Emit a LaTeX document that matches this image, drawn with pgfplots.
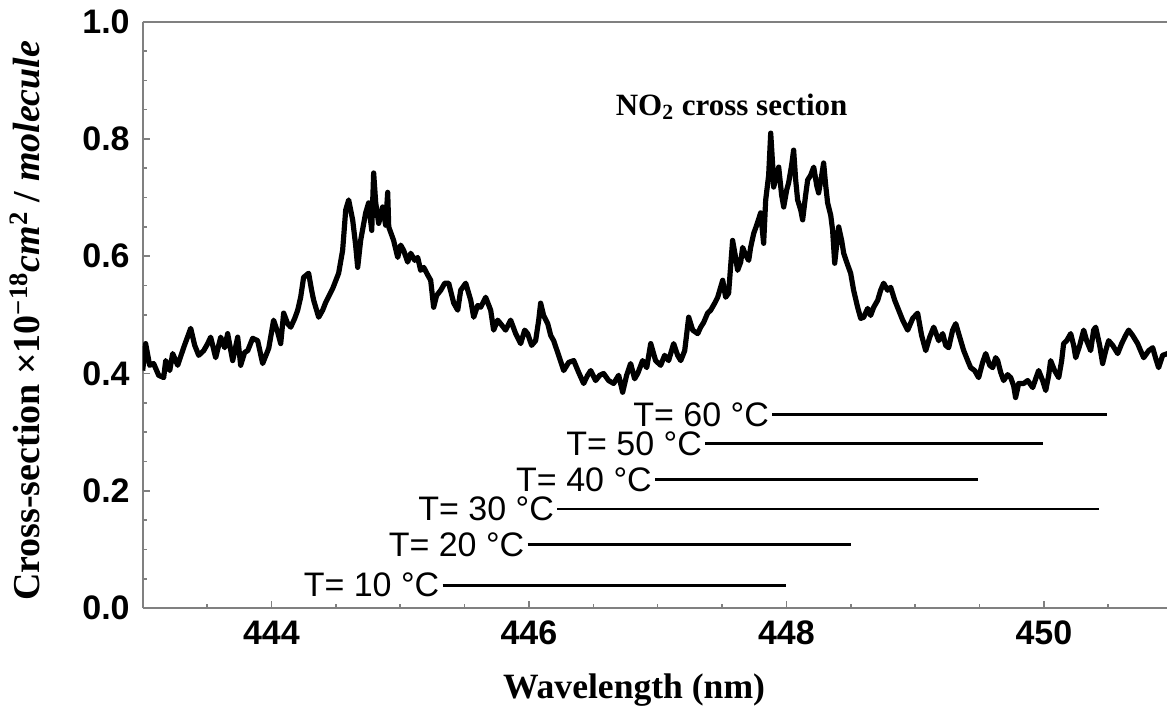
\documentclass[border=0pt]{standalone}
\usepackage{fontspec}
\setmainfont{Liberation Serif}
\newfontfamily\arial{Liberation Sans}
\usepackage{pgfplots}
\pgfplotsset{compat=1.18}

% NO2 absorption cross-section (x: wavelength in nm, y: 1e-18 cm^2/molecule)
\pgfplotstableread{
x y
443.000 0.405
443.023 0.451
443.054 0.414
443.085 0.417
443.124 0.397
443.163 0.393
443.179 0.422
443.210 0.405
443.233 0.434
443.272 0.414
443.318 0.444
443.373 0.477
443.404 0.448
443.435 0.431
443.474 0.439
443.505 0.451
443.528 0.462
443.567 0.427
443.606 0.462
443.637 0.444
443.660 0.468
443.699 0.422
443.738 0.462
443.761 0.414
443.792 0.436
443.816 0.439
443.854 0.460
443.893 0.456
443.932 0.417
443.979 0.443
444.017 0.491
444.049 0.470
444.072 0.451
444.095 0.503
444.126 0.485
444.150 0.479
444.181 0.494
444.204 0.508
444.227 0.530
444.250 0.564
444.289 0.571
444.312 0.542
444.328 0.525
444.367 0.496
444.398 0.508
444.421 0.521
444.476 0.545
444.522 0.571
444.553 0.610
444.577 0.679
444.600 0.696
444.631 0.662
444.654 0.619
444.670 0.581
444.693 0.627
444.732 0.674
444.755 0.691
444.779 0.644
444.794 0.742
444.810 0.691
444.833 0.656
444.864 0.684
444.887 0.653
444.903 0.709
444.911 0.650
444.949 0.627
444.981 0.598
445.004 0.619
445.027 0.610
445.058 0.590
445.082 0.605
445.113 0.593
445.136 0.598
445.159 0.576
445.183 0.581
445.214 0.568
445.237 0.559
445.260 0.513
445.283 0.533
445.315 0.542
445.346 0.554
445.377 0.554
445.416 0.520
445.447 0.508
445.470 0.542
445.509 0.554
445.548 0.525
445.571 0.496
445.602 0.516
445.625 0.513
445.664 0.530
445.703 0.508
445.726 0.474
445.757 0.491
445.780 0.485
445.819 0.474
445.858 0.491
445.897 0.468
445.936 0.451
445.967 0.474
445.990 0.468
446.021 0.448
446.052 0.456
446.076 0.491
446.091 0.520
446.114 0.499
446.146 0.485
446.169 0.465
446.192 0.456
446.231 0.431
446.270 0.405
446.309 0.419
446.348 0.422
446.386 0.402
446.425 0.383
446.456 0.397
446.480 0.405
446.518 0.388
446.550 0.397
446.580 0.400
446.619 0.388
446.658 0.383
446.697 0.397
446.728 0.368
446.759 0.397
446.790 0.417
446.821 0.391
446.845 0.400
446.883 0.422
446.915 0.410
446.946 0.451
446.984 0.422
447.023 0.414
447.054 0.431
447.085 0.422
447.124 0.451
447.155 0.431
447.179 0.422
447.210 0.439
447.241 0.496
447.272 0.474
447.311 0.468
447.334 0.479
447.357 0.487
447.388 0.503
447.412 0.508
447.443 0.520
447.466 0.530
447.489 0.547
447.505 0.559
447.528 0.530
447.551 0.537
447.582 0.627
447.606 0.597
447.621 0.576
447.645 0.590
447.660 0.615
447.683 0.602
447.707 0.593
447.722 0.615
447.746 0.639
447.769 0.653
447.800 0.674
447.823 0.622
447.839 0.696
447.862 0.738
447.878 0.810
447.893 0.756
447.901 0.718
447.924 0.738
447.940 0.752
447.963 0.704
447.979 0.684
448.002 0.713
448.017 0.725
448.041 0.756
448.056 0.781
448.072 0.730
448.087 0.696
448.111 0.679
448.126 0.662
448.149 0.704
448.165 0.730
448.188 0.738
448.212 0.752
448.235 0.721
448.250 0.708
448.274 0.738
448.289 0.759
448.305 0.721
448.320 0.691
448.344 0.670
448.359 0.644
448.375 0.588
448.390 0.619
448.406 0.650
448.429 0.627
448.445 0.605
448.468 0.590
448.499 0.571
448.522 0.542
448.553 0.513
448.577 0.494
448.600 0.496
448.631 0.511
448.654 0.499
448.678 0.513
448.709 0.525
448.732 0.542
448.755 0.554
448.786 0.542
448.810 0.547
448.841 0.525
448.872 0.508
448.903 0.491
448.942 0.474
448.981 0.494
449.019 0.503
449.050 0.465
449.082 0.439
449.113 0.462
449.144 0.479
449.183 0.456
449.214 0.468
449.237 0.448
449.260 0.444
449.291 0.474
449.315 0.485
449.346 0.462
449.377 0.439
449.408 0.422
449.431 0.410
449.462 0.405
449.493 0.393
449.524 0.419
449.548 0.434
449.579 0.414
449.602 0.410
449.625 0.427
449.641 0.422
449.664 0.402
449.687 0.388
449.718 0.398
449.742 0.393
449.765 0.379
449.780 0.359
449.804 0.383
449.843 0.383
449.874 0.388
449.913 0.376
449.936 0.391
449.959 0.405
449.990 0.388
450.014 0.371
450.037 0.397
450.052 0.422
450.083 0.405
450.115 0.393
450.138 0.422
450.153 0.451
450.177 0.456
450.208 0.468
450.231 0.448
450.247 0.427
450.278 0.448
450.309 0.474
450.332 0.456
450.363 0.439
450.386 0.474
450.402 0.479
450.433 0.448
450.456 0.417
450.480 0.439
450.503 0.456
450.534 0.448
450.573 0.434
450.604 0.451
450.635 0.465
450.658 0.474
450.689 0.465
450.728 0.451
450.751 0.439
450.775 0.427
450.814 0.439
450.845 0.444
450.868 0.426
450.891 0.410
450.922 0.431
450.961 0.434
}\spectrum

\begin{document}
\begin{tikzpicture}
\begin{axis}[
  name=ax,
  scale only axis,
  width=512.2pt, height=293.2pt,
  xmin=443, xmax=450.956,
  ymin=0, ymax=1,
  axis x line*=bottom, axis y line*=left,
  axis line style={gray, line width=1pt},
  tick style={gray, line width=0.8pt},
  tick align=inside,
  major tick length=3.5pt, minor tick length=2pt,
  xtick={444,446,448,450},
  minor xtick={443.5,444.5,445,445.5,446.5,447,447.5,448.5,449,449.5,450.5},
  ytick={0,0.2,0.4,0.6,0.8,1.0},
  minor ytick={0.05,0.1,0.15,0.25,0.3,0.35,0.45,0.5,0.55,0.65,0.7,0.75,0.85,0.9,0.95},
  /pgf/number format/assume math mode=true,
  yticklabel style={/pgf/number format/fixed, /pgf/number format/fixed zerofill,
    /pgf/number format/precision=1, xshift=-3pt},
  xticklabel style={yshift=-3pt},
  ticklabel style={font=\arial\bfseries\fontsize{17}{19}\selectfont},
  xlabel={Wavelength (nm)},
  ylabel={Cross-section ×10\textsuperscript{−18}\textit{cm}\textsuperscript{2} / \textit{molecule}},
  x label style={font=\bfseries\fontsize{17.8}{20}\selectfont,
    at={(axis description cs:0.4797,-0.14)}, anchor=center},
  y label style={font=\bfseries\fontsize{19}{21}\selectfont,
    at={(axis description cs:-0.115,0.49)}, anchor=center, rotate=0},
  clip=true,
]
\addplot[black, line width=2.6pt, line join=round] table[x=x, y=y] {\spectrum};

% temperature reference lines
\addplot[black, line width=1.4pt, font=\arial\fontsize{17}{19}\selectfont]
  coordinates {(445.33,0.039) (448.00,0.039)} node[pos=0, anchor=east, inner sep=1pt] {T= 10 °C};
\addplot[black, line width=1.4pt, font=\arial\fontsize{17}{19}\selectfont]
  coordinates {(445.99,0.108) (448.50,0.108)} node[pos=0, anchor=east, inner sep=1pt] {T= 20 °C};
\addplot[black, line width=1.4pt, font=\arial\fontsize{17}{19}\selectfont]
  coordinates {(446.22,0.169) (450.43,0.169)} node[pos=0, anchor=east, inner sep=1pt] {T= 30 °C};
\addplot[black, line width=1.4pt, font=\arial\fontsize{17}{19}\selectfont]
  coordinates {(446.98,0.219) (449.49,0.219)} node[pos=0, anchor=east, inner sep=1pt] {T= 40 °C};
\addplot[black, line width=1.4pt, font=\arial\fontsize{17}{19}\selectfont]
  coordinates {(447.37,0.280) (449.99,0.280)} node[pos=0, anchor=east, inner sep=1pt] {T= 50 °C};
\addplot[black, line width=1.4pt, font=\arial\fontsize{17}{19}\selectfont]
  coordinates {(447.89,0.330) (450.49,0.330)} node[pos=0, anchor=east, inner sep=1pt] {T= 60 °C};

\node[font=\bfseries\fontsize{15.5}{18}\selectfont] at (axis description cs:0.575,0.855)
  {NO\textsubscript{2} cross section};
\draw[gray, line width=1pt] (axis description cs:0,1) -- (axis description cs:1,1);
\end{axis}
\pgfresetboundingbox
\path[use as bounding box] ([xshift=-71.35pt,yshift=-49.5pt]ax.south west) rectangle ([yshift=10.85pt]ax.north east);
\end{tikzpicture}
\end{document}
